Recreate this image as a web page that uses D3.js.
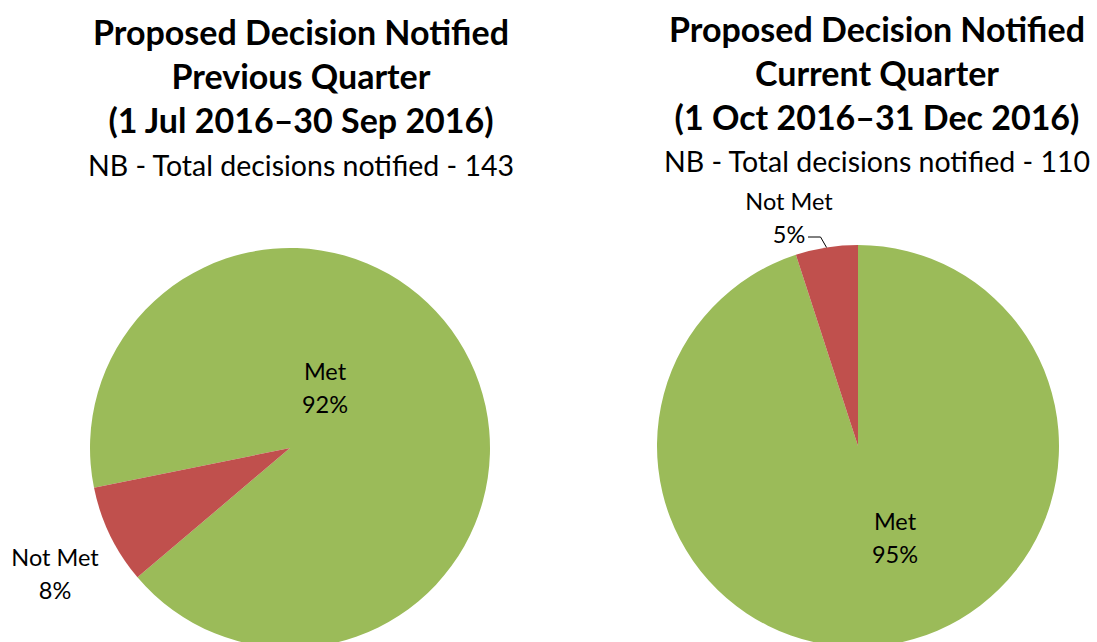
<!DOCTYPE html>
<html>
<head>
<meta charset="utf-8">
<script src="https://cdn.jsdelivr.net/npm/d3@7"></script>
<style>
  body { margin: 0; background: #fff; }
  text { font-family: Lato, "Open Sans", sans-serif; fill: #000; }
</style>
</head>
<body>
<div id="chart"></div>
<script>
// data
var categories = ["Met", "Not Met"];
var prevValues = [92, 8];
var currValues = [95, 5];
var prevTitle = ["Proposed Decision Notified", "Previous Quarter", "(1 Jul 2016\u201330 Sep 2016)"];
var currTitle = ["Proposed Decision Notified", "Current Quarter", "(1 Oct 2016\u201331 Dec 2016)"];
var prevNote = "NB - Total decisions notified - 143";
var currNote = "NB - Total decisions notified - 110";

var width = 1097, height = 642;
var colors = d3.scaleOrdinal().domain(categories).range(["#9bbb59", "#c0504d"]);

var svg = d3.select("#chart")
    .append("svg")
    .attr("width", width)
    .attr("height", height);

function drawPie(opts) {
    var g = svg.append("g");

    // titles
    g.selectAll(".title")
        .data(opts.title)
        .enter()
        .append("text")
        .attr("class", "title")
        .attr("x", opts.titleX)
        .attr("y", function(d, i) { return opts.titleY + i * 44; })
        .attr("text-anchor", "middle")
        .style("font-weight", "bold")
        .style("font-size", "34px")
        .text(function(d) { return d; });

    g.append("text")
        .attr("x", opts.titleX)
        .attr("y", opts.noteY)
        .attr("text-anchor", "middle")
        .style("font-size", "28.5px")
        .text(opts.note);

    var data = categories.map(function(c, i) { return {name: c, value: opts.values[i]}; });
    var total = d3.sum(opts.values);

    var pie = d3.pie()
        .sort(null)
        .value(function(d) { return d.value; })
        .startAngle(opts.start)
        .endAngle(opts.start + 2 * Math.PI);

    var arc = d3.arc().innerRadius(0).outerRadius(opts.r);

    var pg = g.append("g")
        .attr("transform", "translate(" + opts.cx + "," + opts.cy + ")");

    var arcs = pie(data);
    pg.selectAll("path")
        .data(arcs)
        .enter()
        .append("path")
        .attr("d", arc)
        .attr("fill", function(d) { return colors(d.data.name); });

    // labels
    var lab = pg.selectAll(".lab")
        .data(arcs)
        .enter()
        .append("text")
        .attr("class", "lab")
        .attr("text-anchor", "middle")
        .style("font-size", "23.5px")
        .attr("transform", function(d, i) {
            var p = opts.labelPos[i];
            return "translate(" + p[0] + "," + p[1] + ")";
        });
    lab.append("tspan")
        .attr("x", 0)
        .attr("dy", 0)
        .text(function(d) { return d.data.name; });
    lab.append("tspan")
        .attr("x", 0)
        .attr("dy", 33)
        .text(function(d) { return Math.round(d.data.value / total * 100) + "%"; });

    if (opts.leader) {
        // leader line from label to the edge of the small slice
        var a = arcs[1];
        var mid = (a.startAngle + a.endAngle) / 2;
        var ex = Math.sin(mid) * opts.r, ey = -Math.cos(mid) * opts.r;
        pg.append("path")
            .attr("d", d3.line()([opts.leader, [ex - 6, opts.leader[1]], [ex, ey]]))
            .attr("fill", "none")
            .attr("stroke", "#000")
            .attr("stroke-width", 1);
    }
}

// left pie: rotated so the small slice sits on the lower left
drawPie({
    title: prevTitle, titleX: 301, titleY: 45,
    note: prevNote, noteY: 176,
    values: prevValues,
    cx: 290, cy: 448, r: 200,
    start: 258.5 * Math.PI / 180,
    labelPos: [[35, -68], [-235, 118]]
});

drawPie({
    title: currTitle, titleX: 877, titleY: 42,
    note: currNote, noteY: 172,
    values: currValues,
    cx: 858, cy: 446, r: 201,
    start: 0,
    labelPos: [[37, 84], [-69, -236]],
    leader: [-50, -209]
});
</script>
</body>
</html>
